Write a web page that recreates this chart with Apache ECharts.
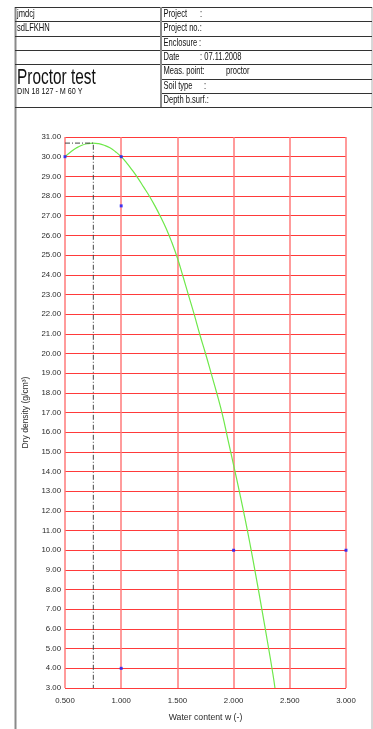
<!DOCTYPE html>
<html>
<head>
<meta charset="utf-8">
<script src="https://cdn.jsdelivr.net/npm/echarts@6/dist/echarts.min.js"></script>
<style>
html,body{margin:0;padding:0;background:#fff;}
#chart{width:373px;height:729px;}
</style>
</head>
<body>
<div id="chart"></div>
<script>
// ---- data ----
const waterContent = [0.5, 1.0, 1.0, 1.0, 2.0, 3.0];
const dryDensity = [30.0, 30.0, 27.5, 4.0, 10.0, 10.0];
const curveW = [0.50,0.55,0.60,0.65,0.70,0.75,0.80,0.85,0.90,0.95,1.00,1.05,1.10,1.15,1.20,1.25,1.30,1.35,1.40,1.45,1.50,1.55,1.60,1.65,1.70,1.75,1.80,1.85,1.90,1.95,2.00,2.05,2.10,2.15,2.20,2.25,2.30,2.35,2.368];
const curveD = [30.00,30.24,30.44,30.58,30.66,30.69,30.66,30.58,30.45,30.25,30.00,29.67,29.30,28.90,28.45,28.00,27.50,26.95,26.35,25.65,24.85,23.91,22.94,21.97,20.95,20.00,19.00,17.99,16.90,15.61,14.33,13.02,11.66,10.20,8.65,7.05,5.40,3.70,3.00];
const optimumW = 0.752;
const optimumD = 30.69;
const xName = 'Water content w (-)';
const yName = 'Dry density (g/cm³)';
const headerLeft = ['jmdcj', 'sdLFKHN'];
const title = 'Proctor test';
const subtitle = 'DIN 18 127 - M 60 Y';

const chart = echarts.init(document.getElementById('chart'), null, {renderer: 'canvas'});
const NARROW = "'Liberation Sans Narrow','Liberation Sans',Arial,sans-serif";
const SANS = "'Liberation Sans',Arial,sans-serif";
const SX = 0.72;

const rowTop = 7, rowH = 14.3;
const L = 15, R = 372, MID = 161;
const graphics = [];
function hline(x1, x2, y, color, w) {
  graphics.push({type: 'line', shape: {x1: x1, y1: y, x2: x2, y2: y}, style: {stroke: color, lineWidth: w}, silent: true});
}
function vline(x, y1, y2, color, w) {
  graphics.push({type: 'line', shape: {x1: x, y1: y1, x2: x, y2: y2}, style: {stroke: color, lineWidth: w}, silent: true});
}
function txt(x, y, s, size, scale) {
  graphics.push({type: 'text', x: x, y: y, scaleX: scale || SX, silent: true,
    style: {text: s, x: 0, y: 0, font: size + 'px ' + SANS, fill: '#111', verticalAlign: 'middle', align: 'left'}});
}
// frame
vline(L + 0.5, rowTop, 729, '#8a8a8a', 2);
vline(R, rowTop, 729, '#b0b0b0', 1);
hline(L, R, rowTop + 0.5, '#333', 1);
for (let i = 1; i <= 7; i++) {
  const y = Math.round(rowTop + i * rowH) + 0.5;
  if (i <= 4 || i === 7) hline(L, R, y, '#333', 1);
  else hline(MID, R, y, '#333', 1);
}
vline(MID, rowTop, rowTop + 7 * rowH, '#8a8a8a', 2);
// header texts
const cy = i => rowTop + (i + 0.5) * rowH;
txt(17, cy(0), headerLeft[0], 10.5);
txt(17, cy(1), headerLeft[1], 10.5);
txt(17, 78, title, 22, 0.7);
txt(17, 91.5, subtitle, 9, 0.8);
txt(163.5, cy(0), 'Project', 10.5); txt(200, cy(0), ':', 10.5);
txt(163.5, cy(1), 'Project no.:', 10.5);
txt(163.5, cy(2), 'Enclosure', 10.5); txt(199, cy(2), ':', 10.5);
txt(163.5, cy(3), 'Date', 10.5); txt(200, cy(3), ': 07.11.2008', 10.5);
txt(163.5, cy(4), 'Meas. point:', 10.5); txt(226, cy(4), 'proctor', 10.5);
txt(163.5, cy(5), 'Soil type', 10.5); txt(204, cy(5), ':', 10.5);
txt(163.5, cy(6), 'Depth b.surf.:', 10.5);

const option = {
  animation: false,
  backgroundColor: '#fff',
  grid: {left: 65, right: 27, top: 137, bottom: 41, containLabel: false},
  xAxis: {
    type: 'value', min: 0.5, max: 3.0, interval: 0.5,
    axisLine: {show: false}, axisTick: {show: false},
    axisLabel: {formatter: v => v.toFixed(3), fontSize: 7.8, color: '#2a2a2a', margin: 9, fontFamily: NARROW},
    splitLine: {show: true, lineStyle: {color: '#ff7a7a', width: 1.5}},
    name: xName, nameLocation: 'middle', nameGap: 25,
    nameTextStyle: {fontSize: 8.7, color: '#2a2a2a', fontFamily: NARROW}
  },
  yAxis: {
    type: 'value', min: 3, max: 31, interval: 1,
    axisLine: {show: false}, axisTick: {show: false},
    axisLabel: {formatter: v => v.toFixed(2), fontSize: 7.8, color: '#2a2a2a', margin: 4, fontFamily: NARROW},
    splitLine: {show: true, lineStyle: {color: '#ff3a3a', width: 1}},
    name: yName, nameLocation: 'middle', nameGap: 27,
    nameTextStyle: {fontSize: 8.5, color: '#2a2a2a', fontFamily: SANS}
  },
  series: [
    {
      type: 'line', data: curveW.map((w, i) => [w, curveD[i]]),
      smooth: true, showSymbol: false, symbol: 'none',
      lineStyle: {color: '#6ee84a', width: 1.2}, z: 3
    },
    {
      type: 'line', data: [[0.5, optimumD], [optimumW, optimumD], [optimumW, 3]],
      showSymbol: false, symbol: 'none',
      lineStyle: {color: '#444', width: 1, type: [5, 2, 1, 2]}, z: 4
    },
    {
      type: 'scatter', data: waterContent.map((w, i) => [w, dryDensity[i]]),
      symbol: 'rect', symbolSize: 3, itemStyle: {color: '#1414ff'}, z: 5
    }
  ],
  graphic: graphics
};
chart.setOption(option);
</script>
</body>
</html>
